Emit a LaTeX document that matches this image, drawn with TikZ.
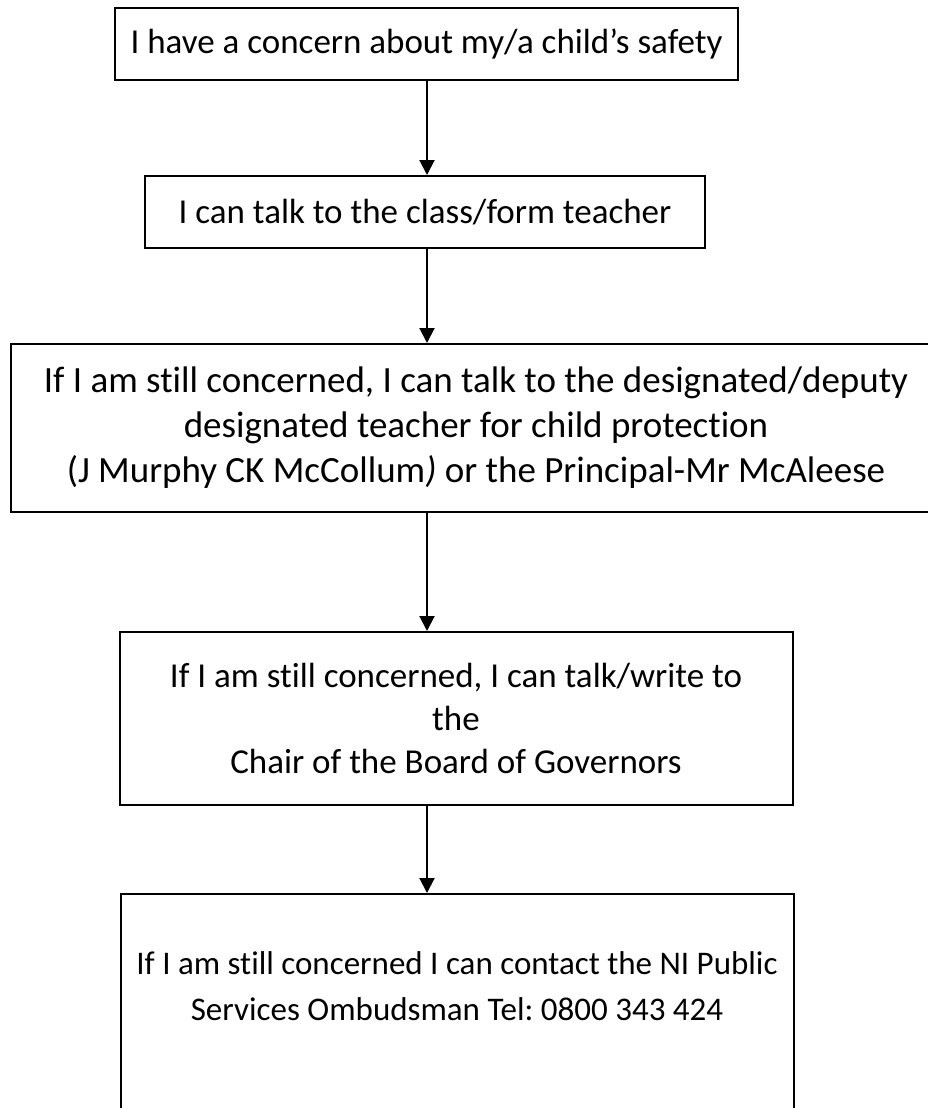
\documentclass[tikz,border=0pt]{standalone}
\usepackage{fontspec}
\setmainfont{Carlito}[Ligatures=NoCommon]
\frenchspacing
\usetikzlibrary{arrows.meta, positioning}
\tikzset{
  every picture/.style={line width=2pt},
  box/.style={draw=black, align=center, inner sep=0pt, font=\fontsize{35}{43}\selectfont},
  arrow/.style={-{Triangle[length=15pt, width=15pt]}, draw=black, line width=2pt},
}
\begin{document}
\begin{tikzpicture}[x=1pt, y=-1pt]
  \useasboundingbox (0,0) rectangle (928,1108);
  % the five steps, top to bottom
  \node[box, minimum width=623, minimum height=72] (concern) at (426.5,44) {I have a concern about my/a child’s safety};
  \node[box, minimum width=560, minimum height=72] (teacher) at (425,212) {I can talk to the class/form teacher};
  \node[box, minimum width=930, minimum height=168, font=\fontsize{37}{45}\selectfont] (designated) at (476,428) {If I am still concerned, I can talk to the designated/deputy\\designated teacher for child protection\\(J Murphy CK McCollum\textit{)} or the Principal-Mr McAleese};
  \node[box, minimum width=673, minimum height=173] (chair) at (456,718.5) {If I am still concerned, I can talk/write to\\the\\Chair of the Board of Governors};
  \node[box, anchor=north, minimum width=673, inner ysep=58, text depth=150pt, font=\fontsize{33}{46}\selectfont] (ombudsman) at (457,893) {If I am still concerned I can contact the NI Public\\Services Ombudsman Tel: 0800 343 424};
  % arrows, all on one vertical line
  \coordinate (ax) at (427,0);
  \draw[arrow] (concern.south -| ax) -- (teacher.north -| ax);
  \draw[arrow] (teacher.south -| ax) -- (designated.north -| ax);
  \draw[arrow] (designated.south -| ax) -- (chair.north -| ax);
  \draw[arrow] (chair.south -| ax) -- (ombudsman.north -| ax);
\end{tikzpicture}
\end{document}
